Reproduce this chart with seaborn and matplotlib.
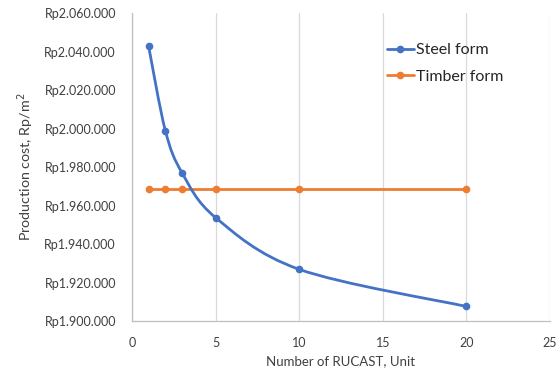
import numpy as np
import pandas as pd
import matplotlib
matplotlib.use("Agg")
import matplotlib.pyplot as plt
from matplotlib.path import Path
from matplotlib.patches import PathPatch
from matplotlib.lines import Line2D
from matplotlib.ticker import FuncFormatter, MultipleLocator
import seaborn as sns

units = [1, 2, 3, 5, 10, 20]
steel_cost = [2042700, 1998900, 1977000, 1953800, 1926900, 1907600]
timber_cost = [1968600, 1968600, 1968600, 1968600, 1968600, 1968600]

BLUE = "#4472C4"
ORANGE = "#ED7D31"
TEXT = "#404040"

sns.set_theme(style="white")
plt.rcParams["font.family"] = ["Lato", "DejaVu Sans"]

df = pd.DataFrame({"units": units, "steel": steel_cost, "timber": timber_cost})

fig = plt.figure(figsize=(5.59, 3.76), dpi=100)
ax = fig.add_axes([0.236, 0.146, 0.748, 0.819])

ax.set_xlim(0, 25)
ax.set_ylim(1900000, 2060000)

# timber form: straight segments with markers
sns.lineplot(data=df, x="units", y="timber", ax=ax, color=ORANGE, lw=2.0,
             marker="o", markersize=5.5, markeredgewidth=0, zorder=3)

# steel form: smoothed curve (Catmull-Rom style bezier in normalized space)
x0, x1 = ax.get_xlim()
y0, y1 = ax.get_ylim()
px = (np.array(units, float) - x0) / (x1 - x0)
py = (np.array(steel_cost, float) - y0) / (y1 - y0)
pts = np.column_stack([px, py])
n = len(pts)
verts = [pts[0]]
codes = [Path.MOVETO]
for i in range(n - 1):
    p_prev = pts[i - 1] if i > 0 else pts[i]
    p_next2 = pts[i + 2] if i + 2 < n else pts[i + 1]
    c1 = pts[i] + (pts[i + 1] - p_prev) / 6.0
    c2 = pts[i + 1] - (p_next2 - pts[i]) / 6.0
    verts += [c1, c2, pts[i + 1]]
    codes += [Path.CURVE4] * 3
verts = np.array(verts)
verts[:, 0] = verts[:, 0] * (x1 - x0) + x0
verts[:, 1] = verts[:, 1] * (y1 - y0) + y0
ax.add_patch(PathPatch(Path(verts, codes), facecolor="none", edgecolor=BLUE,
                       lw=2.0, zorder=4, capstyle="round"))
sns.lineplot(data=df, x="units", y="steel", ax=ax, color=BLUE, lw=0,
             marker="o", markersize=5.5, markeredgewidth=0, zorder=5)

ax.xaxis.set_major_locator(MultipleLocator(5))
ax.yaxis.set_major_locator(MultipleLocator(20000))
ax.yaxis.set_major_formatter(FuncFormatter(
    lambda v, p: "Rp" + f"{int(round(v)):,}".replace(",", ".")))

ax.grid(axis="x", color="#D9D9D9", lw=0.9)
ax.grid(axis="y", visible=False)
for side in ["top", "right"]:
    ax.spines[side].set_visible(False)
for side in ["left", "bottom"]:
    ax.spines[side].set_color("#BFBFBF")
    ax.spines[side].set_linewidth(0.9)

ax.tick_params(axis="y", length=0, labelsize=9.0, colors=TEXT, pad=11.5)
ax.tick_params(axis="x", length=0, labelsize=9.0, colors=TEXT, pad=11.5)
ax.set_xlabel("Number of RUCAST, Unit", fontsize=9.5, color=TEXT, labelpad=4.5)
ax.set_ylabel("Production cost, Rp/m$^2$", fontsize=10.3, color=TEXT, labelpad=6)

handles = [
    Line2D([], [], color=BLUE, lw=2.0, marker="o", markersize=5.5, markeredgewidth=0),
    Line2D([], [], color=ORANGE, lw=2.0, marker="o", markersize=5.5, markeredgewidth=0),
]
ax.legend(handles, ["Steel form", "Timber form"], loc="upper left",
          bbox_to_anchor=(0.575, 0.95), frameon=False, fontsize=11.5,
          handlelength=1.7, handletextpad=0.15, labelspacing=0.8,
          labelcolor="#262626")

fig.savefig("out.png", dpi=100)
